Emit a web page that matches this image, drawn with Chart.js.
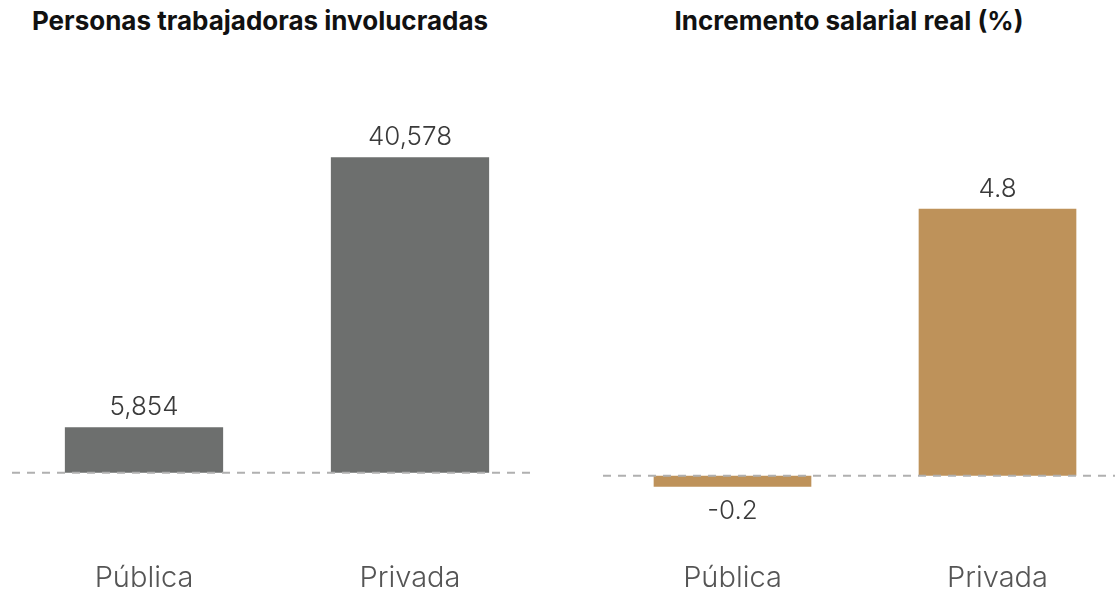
<!DOCTYPE html>
<html>
<head>
<meta charset="utf-8">
<script src="https://cdn.jsdelivr.net/npm/chart.js@4.4.0/dist/chart.umd.min.js"></script>
<style>
  html, body { margin: 0; padding: 0; background: #fff; width: 1115px; height: 592px; overflow: hidden; }
  .box { position: absolute; top: 0; height: 604px; }
  .titulo { position: absolute; top: 8px; font-family: Inter, sans-serif; font-weight: 700; font-size: 26px;
            line-height: 26px; color: #111; white-space: nowrap; transform: translateX(-50%); }
</style>
</head>
<body>
<div class="titulo" style="left:260px">Personas trabajadoras involucradas</div>
<div class="titulo" style="left:849px">Incremento salarial real (%)</div>
<div class="box" style="left:0;width:557px"><canvas id="chartPersonas"></canvas></div>
<div class="box" style="left:560px;width:580px"><canvas id="chartIncremento"></canvas></div>
<script>
var sectores = ["Pública", "Privada"];
var personas = [5854, 40578];
var incremento = [-0.2, 4.8];

// linea punteada en cero + etiquetas de valor sobre/bajo cada barra
var etiquetasPlugin = {
  id: "etiquetas",
  afterDatasetsDraw: function(chart, args, opts) {
    var ctx = chart.ctx;
    var area = chart.chartArea;
    var y0 = chart.scales.y.getPixelForValue(0);
    ctx.save();
    ctx.strokeStyle = "#b0b0b0";
    ctx.lineWidth = 2;
    ctx.setLineDash([8, 7]);
    ctx.beginPath();
    ctx.moveTo(area.left + opts.inicio, y0);
    ctx.lineTo(area.right - opts.fin, y0);
    ctx.stroke();
    ctx.setLineDash([]);

    ctx.font = "300 26px Inter, sans-serif";
    ctx.fillStyle = "#3a3a3a";
    ctx.textAlign = "center";
    ctx.textBaseline = "middle";
    var valores = chart.data.datasets[0].data;
    chart.getDatasetMeta(0).data.forEach(function(bar, i) {
      var v = valores[i];
      var texto = v.toLocaleString("en-US", { minimumFractionDigits: opts.decimales, maximumFractionDigits: opts.decimales });
      var y = v >= 0 ? bar.y - 20 : bar.y + 24;
      ctx.fillText(texto, bar.x, y);
    });
    ctx.restore();
  }
};

function crearGrafica(id, valores, color, yMin, yMax, padding, linea, decimales) {
  var ctx = document.getElementById(id);
  return new Chart(ctx, {
    type: "bar",
    data: {
      labels: sectores,
      datasets: [{
        data: valores,
        backgroundColor: color,
        borderWidth: 0,
        barPercentage: 1,
        categoryPercentage: 0.595
      }]
    },
    options: {
      responsive: true,
      maintainAspectRatio: false,
      animation: false,
      devicePixelRatio: 1,
      layout: { padding: padding },
      plugins: {
        legend: { display: false },
        tooltip: { enabled: false },
        etiquetas: { inicio: linea[0], fin: linea[1], decimales: decimales }
      },
      scales: {
        x: {
          grid: { display: false, drawTicks: false },
          border: { display: false },
          ticks: {
            padding: 8,
            color: "#555",
            font: { family: "Inter, sans-serif", size: 29, weight: "300" }
          }
        },
        y: {
          display: false,
          min: yMin,
          max: yMax
        }
      }
    },
    plugins: [etiquetasPlugin]
  });
}

crearGrafica("chartPersonas", personas, "#6d6f6e", -10350, 50000,
  { left: 11, right: 14, top: 84, bottom: 0 }, [1, 9], 0);
crearGrafica("chartIncremento", incremento, "#be925a", -1.395, 6,
  { left: 40, right: 10, top: 142, bottom: 0 }, [3, 0], 1);
</script>
</body>
</html>
